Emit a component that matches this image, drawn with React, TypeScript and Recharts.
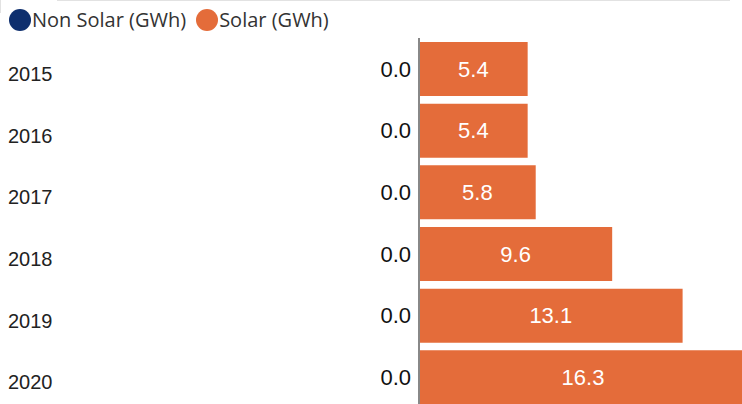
import { BarChart, Bar, XAxis, YAxis, Legend, LabelList } from "recharts";

const years = ["2015", "2016", "2017", "2018", "2019", "2020"];
const nonSolar = [0, 0, 0, 0, 0, 0];
const solar = [5.4, 5.4, 5.8, 9.6, 13.1, 16.3];

const SERIES = [
  { key: "nonSolar", name: "Non Solar (GWh)", color: "#0E2F6E" },
  { key: "solar", name: "Solar (GWh)", color: "#E46C3A" },
];

const data = years.map((year, i) => ({
  year,
  nonSolar: nonSolar[i],
  solar: solar[i],
}));

const fmt = (v: unknown) => Number(v).toFixed(1);

function YearTick({ y, payload }: { y?: number; payload?: { value: string } }) {
  return (
    <text
      x={8}
      y={(y ?? 0) + 5}
      dy="0.35em"
      textAnchor="start"
      fill="#222"
      fontSize={20}
      fontFamily="'Liberation Sans', Arial, sans-serif"
    >
      {payload?.value}
    </text>
  );
}

function LegendRow() {
  return (
    <div
      style={{
        height: 38,
        display: "flex",
        alignItems: "center",
        fontFamily: "'Open Sans', sans-serif",
        fontSize: 20,
        color: "#333",
        paddingLeft: 9,
        paddingTop: 1,
        boxSizing: "border-box",
      }}
    >
      {SERIES.map((s) => (
        <span key={s.key} style={{ display: "flex", alignItems: "center", marginRight: 10 }}>
          <span
            style={{
              width: 22,
              height: 22,
              borderRadius: "50%",
              background: s.color,
              display: "inline-block",
              marginRight: 1,
            }}
          />
          {s.name}
        </span>
      ))}
    </div>
  );
}

export default function App() {
  return (
    <div
      style={{
        position: "absolute",
        left: 0,
        top: 0,
        width: 742,
        height: 404,
        overflow: "hidden",
        background: "#fff",
      }}
    >
      <div style={{ position: "absolute", top: 0, left: 57, width: 673, height: 1, background: "#e2e2e2" }} />
      <div style={{ position: "absolute", top: 0, left: 0, width: 1, height: 13, background: "#e2e2e2" }} />
      <BarChart
        layout="vertical"
        width={747}
        height={410}
        data={data}
        margin={{ top: 0, right: 0, bottom: 2, left: 0 }}
        barSize={54}
      >
        <XAxis type="number" hide domain={[0, 16.3]} />
        <YAxis
          type="category"
          dataKey="year"
          width={419}
          tickLine={false}
          axisLine={{ stroke: "#888", strokeWidth: 2 }}
          tick={<YearTick />}
        />
        <Legend verticalAlign="top" align="left" content={<LegendRow />} />
        <Bar
          dataKey="nonSolar"
          name={SERIES[0].name}
          stackId="a"
          fill={SERIES[0].color}
          isAnimationActive={false}
        />
        <Bar
          dataKey="solar"
          name={SERIES[1].name}
          stackId="a"
          fill={SERIES[1].color}
          isAnimationActive={false}
        >
          {/* Non Solar values are zero-width, so their labels hang off the solar bar's start */}
          <LabelList
            dataKey="nonSolar"
            position="left"
            offset={8}
            formatter={fmt}
            fill="#111"
            fontSize={22}
            fontFamily="'Liberation Sans', Arial, sans-serif"
          />
          <LabelList
            dataKey="solar"
            position="center"
            formatter={fmt}
            fill="#fff"
            fontSize={22}
            fontFamily="'Liberation Sans', Arial, sans-serif"
          />
        </Bar>
      </BarChart>
    </div>
  );
}
